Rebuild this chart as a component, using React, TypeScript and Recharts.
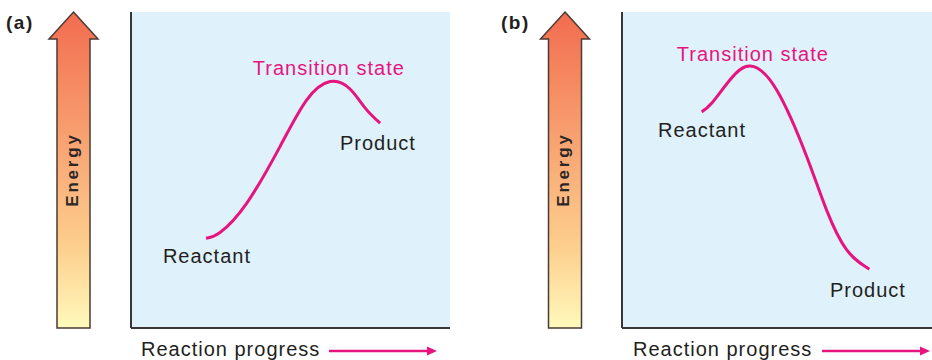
import React from "react";
import { LineChart, Line, XAxis, YAxis, CartesianGrid, ReferenceDot, ReferenceLine, Customized } from "recharts";

// Panel (a): endothermic profile
const progressA = [23.5, 27.9, 36.3, 46.7, 55.1, 62.4, 68.5, 73.5, 78.1];
const energyA = [28.4, 30.2, 39.5, 57.4, 72.2, 78.0, 75.8, 69.5, 64.8];
// Panel (b): exothermic profile
const progressB = [25.7, 28.9, 34.8, 41.3, 49.9, 59.6, 66.0, 72.5, 79.8];
const energyB = [68.4, 71.1, 78.5, 82.9, 75.3, 54.2, 37.3, 24.7, 18.6];

// Labels: text, x, y (data units), kind
const labelTextA = ["Transition state", "Product", "Reactant"];
const labelXA = [38.2, 65.5, 10.0];
const labelYA = [80.1, 56.3, 20.6];
const labelKindA = ["ts", "plain", "plain"];

const labelTextB = ["Transition state", "Reactant", "Product"];
const labelXB = [17.7, 11.6, 67.1];
const labelYB = [84.5, 60.4, 9.8];
const labelKindB = ["ts", "plain", "plain"];

const panelTags = ["(a)", "(b)"];
const yTitle = "Energy";
const xTitle = "Reaction progress";

const FONT = "'Liberation Sans', Arial, Helvetica, sans-serif";
const MAGENTA = "#e6147f";
const INK = "#231f20";
const AXIS = "#3a3636";
const PLOT_BG = "#dff1fa";

const dataA = progressA.map((x, i) => ({ x, y: energyA[i] }));
const dataB = progressB.map((x, i) => ({ x, y: energyB[i] }));

function Decor({ id, tag, tagX, arrowCx, titleX, arrowX1, arrowX2 }: any) {
  const tipY = 12;
  const headY = 39;
  const bottom = 328;
  const half = 16.5;
  const headHalf = 24.5;
  const pts = [
    [arrowCx, tipY],
    [arrowCx + headHalf, headY],
    [arrowCx + half, headY],
    [arrowCx + half, bottom],
    [arrowCx - half, bottom],
    [arrowCx - half, headY],
    [arrowCx - headHalf, headY],
  ]
    .map((p) => p.join(","))
    .join(" ");
  const cy = 169.5;
  const tx = arrowCx - 1.5;
  return (
    <g>
      <defs>
        <linearGradient id={id} x1="0" y1="0" x2="0" y2="1">
          <stop offset="0%" stopColor="#f26c4f" />
          <stop offset="40%" stopColor="#f8a171" />
          <stop offset="75%" stopColor="#fdd08f" />
          <stop offset="100%" stopColor="#fff9bb" />
        </linearGradient>
      </defs>
      <text x={tagX} y={29} fontFamily={FONT} fontWeight="bold" fontSize={19} letterSpacing={1.5} fill={INK}>
        {tag}
      </text>
      <polygon points={pts} fill={`url(#${id})`} stroke="#4a3b36" strokeWidth={1.5} strokeLinejoin="miter" />
      <text
        x={tx}
        y={cy}
        transform={`rotate(-90 ${tx} ${cy})`}
        textAnchor="middle"
        dominantBaseline="central"
        fontFamily={FONT}
        fontWeight="bold"
        fontSize={17}
        letterSpacing={2.8}
        fill="#2b2727"
      >
        {yTitle}
      </text>
      <text x={titleX} y={356} fontFamily={FONT} fontSize={20} letterSpacing={1} fill={INK}>
        {xTitle}
      </text>
      <line x1={arrowX1} y1={351} x2={arrowX2 - 8} y2={351} stroke={MAGENTA} strokeWidth={2.5} />
      <polygon
        points={`${arrowX2 - 10},346.5 ${arrowX2},351 ${arrowX2 - 10},355.5`}
        fill={MAGENTA}
      />
    </g>
  );
}

function labelShape(text: string, kind: string) {
  return (props: any) => (
    <text
      x={props.cx}
      y={props.cy}
      fontFamily={FONT}
      fontSize={20}
      letterSpacing={1}
      fill={kind === "ts" ? MAGENTA : INK}
    >
      {text}
    </text>
  );
}

function Panel({ data, texts, xs, ys, kinds, width, margin, decor }: any) {
  return (
    <LineChart width={width} height={360} data={data} margin={margin}>
      <CartesianGrid fill={PLOT_BG} horizontal={false} vertical={false} stroke="none" />
      <XAxis type="number" dataKey="x" domain={[0, 100]} hide />
      <YAxis type="number" domain={[0, 100]} hide />
      <ReferenceLine x={0} stroke={AXIS} strokeWidth={2} />
      <ReferenceLine y={0} stroke={AXIS} strokeWidth={2} />
      <Line
        type="natural"
        dataKey="y"
        stroke={MAGENTA}
        strokeWidth={3}
        dot={false}
        activeDot={false}
        isAnimationActive={false}
      />
      {texts.map((t: string, i: number) => (
        <ReferenceDot key={t} x={xs[i]} y={ys[i]} r={0} shape={labelShape(t, kinds[i])} />
      ))}
      <Customized component={() => decor} />
    </LineChart>
  );
}

export default function App() {
  return (
    <div style={{ position: "absolute", left: 0, top: 0, width: 932, height: 360, background: "#fff" }}>
      <div style={{ position: "absolute", left: 0, top: 0 }}>
        <Panel
          data={dataA}
          texts={labelTextA}
          xs={labelXA}
          ys={labelYA}
          kinds={labelKindA}
          width={460}
          margin={{ top: 12, right: 10, bottom: 32, left: 131 }}
          decor={
            <Decor id="gradA" tag={panelTags[0]} tagX={6} arrowCx={73.5} titleX={141} arrowX1={329} arrowX2={437} />
          }
        />
      </div>
      <div style={{ position: "absolute", left: 470, top: 0 }}>
        <Panel
          data={dataB}
          texts={labelTextB}
          xs={labelXB}
          ys={labelYB}
          kinds={labelKindB}
          width={462}
          margin={{ top: 12, right: 0, bottom: 32, left: 152 }}
          decor={
            <Decor id="gradB" tag={panelTags[1]} tagX={31} arrowCx={95} titleX={163} arrowX1={352} arrowX2={460} />
          }
        />
      </div>
    </div>
  );
}
